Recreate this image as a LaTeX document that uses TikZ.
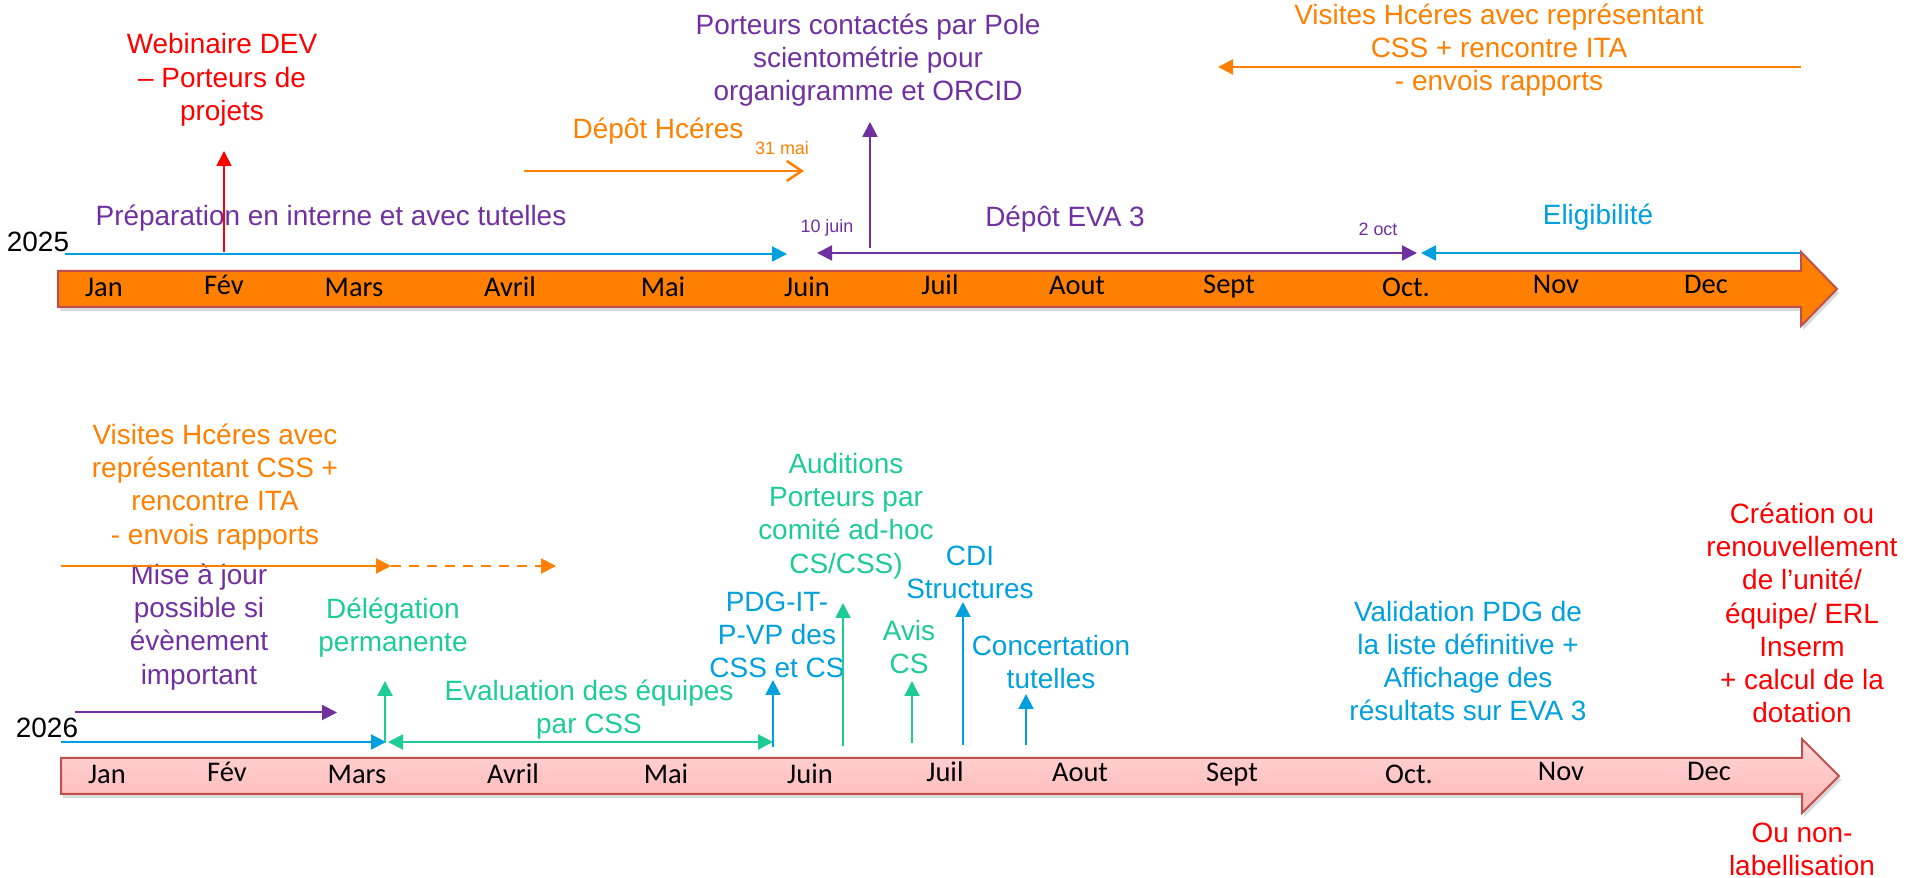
\documentclass[tikz,border=0pt]{standalone}
\usepackage{fontspec}
\setmainfont{Liberation Sans}
\newfontfamily\calib{Carlito}
\usepackage{color}
\usetikzlibrary{arrows.meta,shadows}

\definecolor{hcorange}{RGB}{255,128,0}
\definecolor{evablue}{RGB}{0,160,222}
\definecolor{evapurple}{RGB}{112,48,160}
\definecolor{evagreen}{RGB}{28,204,148}
\definecolor{evared}{RGB}{255,0,0}
\definecolor{barborder}{RGB}{192,80,77}
\definecolor{pinktop}{RGB}{255,214,214}
\definecolor{pinkbot}{RGB}{255,182,182}

\tikzset{
	lbl/.style={align=center, inner sep=0pt, font=\fontsize{15.9}{18.9}\selectfont},
	small/.style={inner sep=0pt, font=\fontsize{10.2}{12}\selectfont},
	month/.style={anchor=base, inner sep=0pt, font=\calib\fontsize{16.2}{19}\selectfont},
	tip/.style={-{Triangle[length=0.3cm,width=0.3cm]}, line width=0.04cm},
	both/.style={{Triangle[length=0.3cm,width=0.3cm]}-{Triangle[length=0.3cm,width=0.3cm]}, line width=0.04cm},
	bar/.style={draw=barborder, line width=0.04cm,
		drop shadow={opacity=0.3, shadow xshift=0.04cm, shadow yshift=-0.08cm}}
}

\begin{document}
\begin{tikzpicture}
	\useasboundingbox (0,0) rectangle (38.3,17.56);

	\path[bar, fill=hcorange] (1.16,12.14) -- (36.02,12.14) -- (36.02,12.52) -- (36.74,11.78)
		-- (36.02,11.04) -- (36.02,11.42) -- (1.16,11.42) -- cycle;
	\path[bar, top color=pinktop, bottom color=pinkbot] (1.22,2.40) -- (36.04,2.40) -- (36.04,2.78)
		-- (36.78,2.04) -- (36.04,1.30) -- (36.04,1.68) -- (1.22,1.68) -- cycle;

	\node (y25) at (0.76,12.72) [lbl] {2025};
	\node (jan25) at (2.08,11.63) [month] {Jan};
	\node (feb25) at (4.48,11.67) [month] {Fév};
	\node (mar25) at (7.08,11.63) [month] {Mars};
	\node (apr25) at (10.20,11.63) [month] {Avril};
	\node (may25) at (13.26,11.63) [month] {Mai};
	\node (jun25) at (16.14,11.63) [month] {Juin};
	\node (jul25) at (18.80,11.66) [month] {Juil};
	\node (aug25) at (21.54,11.66) [month] {Aout};
	\node (sep25) at (24.58,11.68) [month] {Sept};
	\node (oct25) at (28.12,11.63) [month] {Oct.};
	\node (nov25) at (31.12,11.69) [month] {Nov};
	\node (dec25) at (34.12,11.69) [month] {Dec};

	\node (prep) at (6.62,13.20) [lbl, text=evapurple] {Préparation en interne et avec tutelles};
	\node (web) at (4.44,15.96) [lbl, text=evared] {Webinaire DEV\\– Porteurs de\\projets};
	\node (hc) at (13.16,14.94) [lbl, text=hcorange] {Dépôt Hcéres};
	\node (mai31) at (15.64,14.60) [small, text=hcorange] {31 mai};
	\node (porteurs) at (17.36,16.36) [lbl, text=evapurple] {Porteurs contactés par Pole\\scientométrie pour\\organigramme et ORCID};
	\node (juin10) at (16.54,13.00) [small, text=evapurple] {10 juin};
	\node (eva) at (21.30,13.18) [lbl, text=evapurple] {Dépôt EVA 3};
	\node (oct2) at (27.56,12.98) [small, text=evapurple] {2 oct};
	\node (elig) at (31.96,13.22) [lbl, text=evablue] {Eligibilité};
	\node (visit25) at (29.98,16.56) [lbl, text=hcorange] {Visites Hcéres avec représentant\\CSS + rencontre ITA\\- envois rapports};

	\coordinate (prepS) at (1.30,12.48);
	\coordinate (prepE) at (15.74,12.48);
	\coordinate (webS) at (4.48,12.52);
	\coordinate (webE) at (4.48,14.54);
	\coordinate (hcS) at (10.48,14.14);
	\coordinate (hcE) at (16.08,14.14);
	\coordinate (orcS) at (17.40,12.60);
	\coordinate (orcE) at (17.40,15.12);
	\coordinate (evaS) at (16.34,12.50);
	\coordinate (evaE) at (28.34,12.50);
	\coordinate (eligS) at (36.00,12.50);
	\coordinate (eligE) at (28.42,12.50);
	\coordinate (visS) at (36.02,16.22);
	\coordinate (visE) at (24.36,16.22);

	\draw[tip, evablue] (prepS) -- (prepE);
	\draw[tip, evared, line width=0.035cm] (webS) -- (webE);
	\draw[-{Straight Barb[length=0.3cm,width=0.4cm]}, hcorange, line width=0.05cm] (hcS) -- (hcE);
	\draw[tip, evapurple, line width=0.05cm] (orcS) -- (orcE);
	\draw[both, evapurple] (evaS) -- (evaE);
	\draw[tip, evablue] (eligS) -- (eligE);
	\draw[tip, hcorange, line width=0.05cm] (visS) -- (visE);

	\node (y26) at (0.94,3.00) [lbl] {2026};
	\node (jan26) at (2.14,1.89) [month] {Jan};
	\node (feb26) at (4.54,1.93) [month] {Fév};
	\node (mar26) at (7.14,1.89) [month] {Mars};
	\node (apr26) at (10.26,1.89) [month] {Avril};
	\node (may26) at (13.32,1.89) [month] {Mai};
	\node (jun26) at (16.20,1.89) [month] {Juin};
	\node (jul26) at (18.90,1.92) [month] {Juil};
	\node (aug26) at (21.60,1.92) [month] {Aout};
	\node (sep26) at (24.64,1.93) [month] {Sept};
	\node (oct26) at (28.18,1.89) [month] {Oct.};
	\node (nov26) at (31.22,1.94) [month] {Nov};
	\node (dec26) at (34.18,1.94) [month] {Dec};

	\node (visit26) at (4.30,7.82) [lbl, text=hcorange] {Visites Hcéres avec\\représentant CSS +\\rencontre ITA\\- envois rapports};
	\node (maj) at (3.98,5.02) [lbl, text=evapurple] {Mise à jour\\possible si\\évènement\\important};
	\node (deleg) at (7.86,5.00) [lbl, text=evagreen] {Délégation\\permanente};
	\node (evalu) at (11.78,3.36) [lbl, text=evagreen] {Evaluation des équipes\\par CSS};
	\node (pdg) at (15.54,4.86) [lbl, text=evablue] {PDG-IT-\\P-VP des\\CSS et CS};
	\node (audit) at (16.92,7.24) [lbl, text=evagreen] {Auditions\\Porteurs par\\comité ad-hoc\\CS/CSS)};
	\node (avis) at (18.18,4.62) [lbl, text=evagreen] {Avis\\CS};
	\node (cdi) at (19.40,6.12) [lbl, text=evablue] {CDI\\Structures};
	\node (concert) at (21.02,4.32) [lbl, text=evablue] {Concertation\\tutelles};
	\node (valid) at (29.36,4.34) [lbl, text=evablue] {Validation PDG de\\la liste définitive +\\Affichage des\\résultats sur EVA 3};
	\node (creation) at (36.04,5.30) [lbl, text=evared] {Création ou\\renouvellement\\de l’unité/\\équipe/ ERL\\Inserm\\+ calcul de la\\dotation};
	\node (nonlab) at (36.04,0.58) [lbl, text=evared] {Ou non-\\labellisation};

	\coordinate (bluS) at (1.22,2.72);
	\coordinate (bluE) at (7.72,2.72);
	\coordinate (evaluS) at (7.76,2.72);
	\coordinate (evaluE) at (15.46,2.72);
	\coordinate (delegS) at (7.70,2.70);
	\coordinate (delegE) at (7.70,3.94);
	\coordinate (majS) at (1.50,3.31);
	\coordinate (majE) at (6.74,3.31);
	\coordinate (visA) at (1.22,6.24);
	\coordinate (visB) at (7.82,6.24);
	\coordinate (visC) at (11.12,6.24);
	\coordinate (pdgS) at (15.46,2.62);
	\coordinate (pdgE) at (15.46,3.96);
	\coordinate (auditS) at (16.86,2.64);
	\coordinate (auditE) at (16.86,5.50);
	\coordinate (avisS) at (18.24,2.70);
	\coordinate (avisE) at (18.24,3.94);
	\coordinate (cdiS) at (19.26,2.66);
	\coordinate (cdiE) at (19.26,5.52);
	\coordinate (concS) at (20.52,2.66);
	\coordinate (concE) at (20.52,3.68);

	\draw[tip, evablue] (bluS) -- (bluE);
	\draw[both, evagreen] (evaluS) -- (evaluE);
	\draw[tip, evagreen] (delegS) -- (delegE);
	\draw[tip, evapurple] (majS) -- (majE);
	\draw[tip, hcorange] (visA) -- (visB);
	\draw[tip, hcorange, dash pattern=on 0.2cm off 0.16cm] (visB) -- (visC);
	\draw[tip, evablue] (pdgS) -- (pdgE);
	\draw[tip, evagreen] (auditS) -- (auditE);
	\draw[tip, evagreen] (avisS) -- (avisE);
	\draw[tip, evablue] (cdiS) -- (cdiE);
	\draw[tip, evablue] (concS) -- (concE);
\end{tikzpicture}
\end{document}
